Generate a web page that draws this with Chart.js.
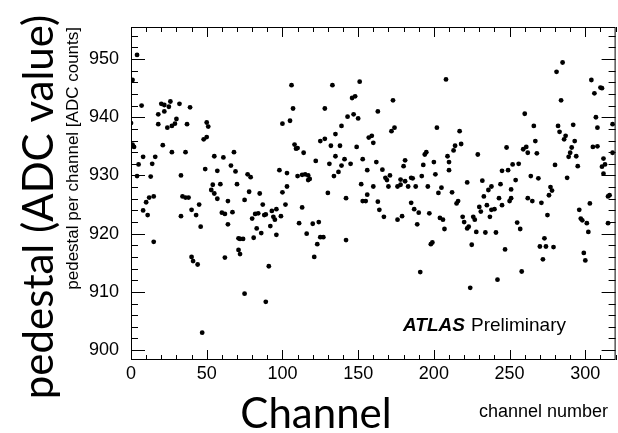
<!DOCTYPE html>
<html>
<head>
<meta charset="utf-8">
<title>Pedestal per channel</title>
<script src="https://cdn.jsdelivr.net/npm/chart.js@4.4.1/dist/chart.umd.min.js"></script>
<style>
  html, body { margin: 0; padding: 0; background: #fff; }
  #pedestalChart { display: block; }
</style>
</head>
<body>
<canvas id="pedestalChart" width="618" height="433"></canvas>
<script>
// channel number and its pedestal in ADC counts
const channels = [
    0, 1, 1, 2, 4, 4, 5, 7, 8, 8, 10, 11, 12, 13, 14, 15, 15, 16, 18, 18,
    20, 21, 22, 22, 24, 25, 26, 27, 27, 29, 30, 32, 33, 33, 34, 36, 36, 37, 38, 39,
    40, 40, 41, 43, 44, 45, 46, 47, 48, 49, 50, 50, 51, 53, 54, 55, 55, 57, 57, 59,
    60, 61, 62, 62, 64, 64, 66, 67, 68, 69, 70, 71, 71, 72, 72, 74, 75, 75, 77, 78,
    79, 80, 81, 82, 83, 84, 85, 86, 87, 88, 89, 89, 91, 92, 93, 94, 95, 96, 96, 98,
    99, 100, 100, 102, 103, 103, 105, 106, 107, 108, 109, 110, 110, 111, 113, 113, 114, 115, 116, 117,
    117, 118, 120, 121, 122, 123, 124, 125, 125, 127, 128, 128, 130, 131, 132, 133, 134, 135, 135, 137,
    138, 139, 139, 141, 142, 142, 143, 145, 146, 147, 148, 149, 150, 151, 152, 153, 153, 155, 156, 156,
    157, 159, 160, 160, 162, 163, 163, 164, 166, 167, 168, 169, 170, 171, 172, 173, 174, 176, 176, 178,
    178, 179, 180, 181, 181, 183, 185, 185, 186, 187, 188, 189, 190, 191, 192, 193, 194, 195, 196, 197,
    198, 199, 200, 201, 202, 203, 204, 205, 206, 207, 208, 209, 210, 210, 212, 213, 214, 215, 216, 217,
    218, 219, 220, 222, 222, 223, 224, 225, 226, 227, 228, 229, 230, 231, 232, 233, 234, 235, 236, 237,
    238, 238, 240, 241, 242, 243, 244, 245, 245, 247, 248, 249, 250, 251, 251, 252, 254, 255, 256, 257,
    258, 259, 260, 261, 262, 262, 264, 265, 266, 267, 268, 269, 270, 271, 272, 273, 274, 275, 276, 277,
    278, 279, 280, 281, 282, 283, 284, 285, 286, 287, 288, 289, 290, 291, 292, 293, 294, 295, 296, 297,
    298, 299, 300, 301, 302, 303, 304, 305, 306, 307, 308, 308, 310, 311, 311, 312, 312, 313, 315, 315,
    316, 318, 318
];
const pedestals = [
    939.0, 946.4, 935.3, 934.9, 950.7, 929.9, 931.9, 942.0, 933.2, 924.0, 925.4, 923.2, 926.2, 929.8, 932.0, 926.4, 918.6, 933.2, 940.5, 938.8,
    942.3, 935.2, 942.1, 941.0, 938.2, 941.8, 942.7, 938.5, 934.0, 938.9, 939.7, 942.3, 930.0, 923.0, 926.4, 934.0, 926.2, 938.8, 926.2, 941.7,
    924.1, 916.0, 915.3, 923.2, 914.7, 925.0, 921.2, 903.0, 936.2, 931.1, 939.1, 936.6, 938.4, 927.5, 928.4, 933.3, 926.9, 930.8, 926.0, 928.5,
    923.6, 933.1, 923.4, 915.9, 925.6, 921.6, 931.7, 923.7, 934.0, 930.7, 928.5, 919.2, 917.2, 919.1, 916.5, 919.1, 925.8, 909.7, 930.2, 927.2,
    929.7, 922.6, 919.3, 923.4, 920.9, 923.5, 926.9, 920.1, 925.0, 923.2, 923.3, 908.3, 914.4, 921.3, 923.9, 922.9, 922.4, 924.2, 919.8, 930.9,
    923.0, 938.9, 927.1, 925.0, 930.4, 928.1, 939.4, 945.5, 941.5, 935.3, 934.6, 934.7, 929.9, 921.8, 930.1, 924.5, 933.9, 930.2, 920.0, 930.0,
    929.2, 929.4, 921.7, 916.0, 932.5, 918.2, 922.0, 935.9, 919.4, 919.4, 941.5, 936.3, 927.0, 932.0, 935.1, 945.5, 929.9, 937.1, 933.3, 930.6,
    935.1, 938.5, 931.7, 932.8, 926.1, 918.9, 940.1, 932.0, 943.3, 940.5, 943.6, 934.9, 939.8, 946.1, 928.5, 932.8, 925.6, 925.6, 930.9, 926.7,
    936.5, 936.8, 935.6, 928.1, 932.3, 941.0, 925.5, 924.1, 931.0, 922.9, 929.6, 929.2, 928.1, 930.0, 937.6, 942.9, 938.2, 928.1, 922.4, 929.3,
    928.4, 923.0, 931.6, 932.6, 929.0, 928.1, 929.6, 925.3, 929.5, 924.2, 928.1, 921.6, 923.6, 913.4, 929.9, 931.8, 933.6, 934.0, 928.1, 923.5,
    918.2, 918.5, 932.3, 930.2, 938.2, 927.0, 922.7, 927.9, 922.4, 920.8, 946.5, 933.3, 932.3, 930.9, 927.1, 934.3, 935.1, 925.2, 925.6, 937.6,
    935.4, 922.9, 922.0, 928.8, 920.9, 921.2, 910.7, 918.1, 922.9, 922.4, 920.3, 933.6, 924.6, 923.8, 929.1, 926.4, 920.2, 924.9, 927.5, 922.9,
    928.1, 924.1, 924.2, 920.2, 912.1, 926.1, 928.5, 930.8, 924.9, 917.3, 934.8, 930.9, 925.6, 927.6, 926.1, 931.9, 929.2, 921.9, 932.0, 920.8,
    913.5, 934.5, 940.6, 934.9, 933.9, 926.1, 929.9, 925.6, 938.5, 935.9, 933.8, 929.5, 917.8, 925.3, 915.6, 919.2, 917.8, 923.2, 926.6, 928.0,
    927.4, 917.7, 931.8, 947.8, 938.5, 937.5, 942.9, 949.4, 936.2, 936.8, 929.6, 933.2, 933.9, 934.8, 938.7, 935.9, 933.3, 931.6, 924.1, 922.6,
    922.3, 916.7, 915.4, 921.8, 920.3, 925.2, 946.4, 934.9, 944.1, 940.0, 938.2, 935.0, 945.1, 945.0, 931.5, 932.9, 930.3, 931.9, 926.4, 921.8,
    926.6, 938.8, 933.9
];

const xTickValues = [0, 50, 100, 150, 200, 250, 300];
const yTickValues = [900, 910, 920, 930, 940, 950];

const points = channels.map((ch, i) => ({ x: ch, y: pedestals[i] }));

const SANS = '"Liberation Sans", Arial, Helvetica, sans-serif';
const BIG = 'Lato, "Open Sans", sans-serif';

// ROOT-style box: frame with inward ticks on all four sides plus the titles
const framePlugin = {
    id: 'rootFrame',
    afterDraw(chart) {
        const ctx = chart.ctx;
        const area = chart.chartArea;
        const xs = chart.scales.x;
        const ys = chart.scales.y;

        ctx.save();
        ctx.strokeStyle = '#000';
        ctx.lineWidth = 1;
        ctx.strokeRect(area.left + 0.5, area.top + 0.5, area.right - area.left - 1, area.bottom - area.top - 1);

        ctx.beginPath();
        for (let v = 0; v <= xs.max; v += 10) {
            const px = Math.round(xs.getPixelForValue(v)) + 0.5;
            const len = v % 50 === 0 ? 10 : 5;
            ctx.moveTo(px, area.bottom);
            ctx.lineTo(px, area.bottom - len);
            ctx.moveTo(px, area.top);
            ctx.lineTo(px, area.top + len);
        }
        for (let v = Math.ceil(ys.min / 2) * 2; v <= ys.max; v += 2) {
            const py = Math.round(ys.getPixelForValue(v)) + 0.5;
            const len = v % 10 === 0 ? 14 : 7;
            ctx.moveTo(area.left, py);
            ctx.lineTo(area.left + len, py);
            ctx.moveTo(area.right, py);
            ctx.lineTo(area.right - len, py);
        }
        ctx.stroke();

        ctx.fillStyle = '#000';

        // label inside the frame
        ctx.textBaseline = 'alphabetic';
        ctx.textAlign = 'left';
        ctx.font = 'italic bold 19px ' + SANS;
        ctx.fillText('ATLAS', 403, 331);
        ctx.font = '19px ' + SANS;
        ctx.fillText('Preliminary', 471, 331);

        // axis titles
        ctx.font = '18px ' + SANS;
        ctx.textAlign = 'right';
        ctx.fillText('channel number', 608, 417);

        ctx.font = '42px ' + BIG;
        ctx.textAlign = 'center';
        ctx.fillText('Channel', 316, 428);

        ctx.save();
        ctx.translate(53, 207);
        ctx.rotate(-Math.PI / 2);
        ctx.fillText('pedestal (ADC value)', 0, 0);
        ctx.restore();

        ctx.save();
        ctx.translate(78, area.top);
        ctx.rotate(-Math.PI / 2);
        ctx.font = '17px ' + SANS;
        ctx.textAlign = 'right';
        ctx.fillText('pedestal per channel [ADC counts]', 0, 0);
        ctx.restore();

        ctx.restore();
    }
};

new Chart(document.getElementById('pedestalChart'), {
    type: 'scatter',
    data: {
        datasets: [{
            data: points,
            pointStyle: 'circle',
            pointRadius: 2.4,
            pointBorderWidth: 0,
            pointBackgroundColor: '#000',
            pointHoverRadius: 2.4
        }]
    },
    options: {
        responsive: false,
        animation: false,
        layout: { padding: { top: 27, right: 0, left: 0, bottom: 0 } },
        plugins: {
            legend: { display: false },
            tooltip: { enabled: false }
        },
        scales: {
            x: {
                type: 'linear',
                min: 0,
                max: 320,
                grid: { display: false, drawTicks: false },
                border: { display: false },
                afterBuildTicks(scale) {
                    scale.ticks = xTickValues.map(v => ({ value: v }));
                },
                afterFit(scale) {
                    scale.height = 73;
                },
                ticks: {
                    padding: 3,
                    color: '#000',
                    maxRotation: 0,
                    font: { family: SANS, size: 18 }
                }
            },
            y: {
                min: 898.3,
                max: 955.5,
                grid: { display: false, drawTicks: false },
                border: { display: false },
                afterBuildTicks(scale) {
                    scale.ticks = yTickValues.map(v => ({ value: v }));
                },
                afterFit(scale) {
                    scale.width = 131;
                },
                ticks: {
                    padding: 12,
                    color: '#000',
                    font: { family: SANS, size: 18 }
                }
            }
        }
    },
    plugins: [framePlugin]
});
</script>
</body>
</html>
